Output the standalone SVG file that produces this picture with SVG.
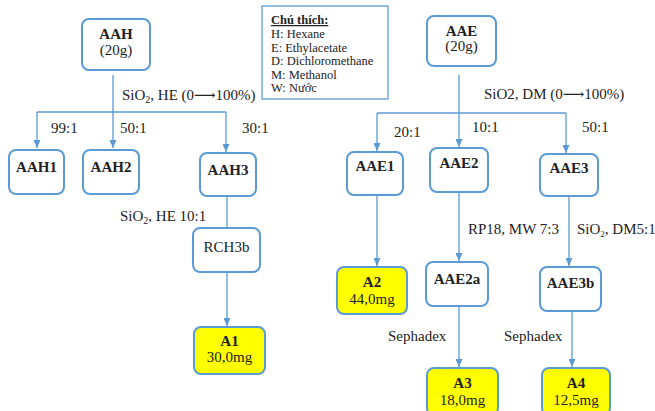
<svg xmlns="http://www.w3.org/2000/svg" width="655" height="411" viewBox="0 0 655 411">
<defs>
<style>
.box{fill:#fff;stroke:#5b9bd5;stroke-width:2}
.y{fill:#ffff00}
text{font-family:"Liberation Serif","Times New Roman","DejaVu Serif",serif;fill:#222}
.t{font-size:15px;text-anchor:middle}
.b{font-weight:bold}
.l{font-size:15px}
.lg{font-size:12.5px}
.c{fill:none;stroke:#5b9bd5;stroke-width:1.3}
</style>
<marker id="ah" markerWidth="8" markerHeight="7" refX="8" refY="3.5" orient="auto" markerUnits="userSpaceOnUse">
<path d="M0,0 L8,3.5 L0,7 Z" fill="#5b9bd5"/>
</marker>
</defs>
<rect width="655" height="411" fill="#fff"/>

<g id="connectors">
<path class="c" d="M113,75 V148" marker-end="url(#ah)"/>
<path class="c" d="M37,112 H226"/>
<path class="c" d="M37,112 V148" marker-end="url(#ah)"/>
<path class="c" d="M226,112 V152" marker-end="url(#ah)"/>
<path class="c" d="M227,196 V228"/>
<path class="c" d="M227,272 V326" marker-end="url(#ah)"/>
<path class="c" d="M459,75 V147" marker-end="url(#ah)"/>
<path class="c" d="M377,113 H566"/>
<path class="c" d="M377,113 V151" marker-end="url(#ah)"/>
<path class="c" d="M566,113 V153" marker-end="url(#ah)"/>
<path class="c" d="M377,195 V266" marker-end="url(#ah)"/>
<path class="c" d="M459,192 V261" marker-end="url(#ah)"/>
<path class="c" d="M569,196 V266" marker-end="url(#ah)"/>
<path class="c" d="M459,306 V367" marker-end="url(#ah)"/>
<path class="c" d="M572,311 V367" marker-end="url(#ah)"/>
</g>

<g id="edge-labels">
<text class="l" x="122" y="100">SiO<tspan font-size="10" dy="3">2</tspan><tspan dy="-3">, HE (0⟶100%)</tspan></text>
<text class="l" x="51" y="133">99:1</text>
<text class="l" x="120" y="133">50:1</text>
<text class="l" x="242" y="133">30:1</text>
<text class="l" x="120" y="221">SiO<tspan font-size="10" dy="3">2</tspan><tspan dy="-3">, HE 10:1</tspan></text>
<text class="l" x="484" y="99">SiO2, DM (0⟶100%)</text>
<text class="l" x="394" y="137">20:1</text>
<text class="l" x="472" y="132">10:1</text>
<text class="l" x="582" y="132">50:1</text>
<text class="l" x="468" y="234">RP18, MW 7:3</text>
<text class="l" x="577" y="234" font-size="13">SiO<tspan font-size="9" dy="3">2</tspan><tspan dy="-3">, DM5:1</tspan></text>
<text class="l" x="388" y="341">Sephadex</text>
<text class="l" x="504" y="341">Sephadex</text>
</g>

<g id="legend">
<rect x="262" y="6" width="126" height="93" fill="#fff" stroke="#5b9bd5" stroke-width="1.3"/>
<text class="lg b" x="271" y="24" text-decoration="underline">Chú thích:</text>
<text class="lg" x="271" y="38">H: Hexane</text>
<text class="lg" x="271" y="52">E: Ethylacetate</text>
<text class="lg" x="271" y="65">D: Dichloromethane</text>
<text class="lg" x="271" y="79">M: Methanol</text>
<text class="lg" x="271" y="92">W: Nước</text>
</g>

<g id="AAH">
<rect class="box" x="82" y="19" width="68" height="51" rx="7"/>
<text class="t b" x="116" y="39">AAH</text>
<text class="t" x="116" y="55">(20g)</text>
</g>
<g id="AAH1">
<rect class="box" x="9" y="150" width="55" height="44" rx="7"/>
<text class="t b" x="36.5" y="172">AAH1</text>
</g>
<g id="AAH2">
<rect class="box" x="83" y="150" width="56" height="44" rx="7"/>
<text class="t b" x="111" y="172">AAH2</text>
</g>
<g id="AAH3">
<rect class="box" x="200" y="153" width="56" height="43" rx="7"/>
<text class="t b" x="228" y="175">AAH3</text>
</g>
<g id="RCH3b">
<rect class="box" x="193" y="228" width="67" height="44" rx="7"/>
<text class="t" x="226.5" y="252">RCH3b</text>
</g>
<g id="A1">
<rect class="box y" x="194" y="327" width="71" height="47" rx="7"/>
<text class="t b" x="229.5" y="346">A1</text>
<text class="t" x="229.5" y="362">30,0mg</text>
</g>

<g id="AAE">
<rect class="box" x="427" y="16" width="69" height="50" rx="7"/>
<text class="t b" x="461.5" y="36">AAE</text>
<text class="t" x="461.5" y="51">(20g)</text>
</g>
<g id="AAE1">
<rect class="box" x="347" y="152" width="56" height="43" rx="7"/>
<text class="t b" x="375" y="171">AAE1</text>
</g>
<g id="AAE2">
<rect class="box" x="430" y="148" width="58" height="44" rx="7"/>
<text class="t b" x="459" y="168">AAE2</text>
</g>
<g id="AAE3">
<rect class="box" x="540" y="154" width="58" height="42" rx="7"/>
<text class="t b" x="569" y="173">AAE3</text>
</g>
<g id="A2">
<rect class="box y" x="337" y="267" width="70" height="47" rx="7"/>
<text class="t b" x="372" y="287">A2</text>
<text class="t" x="372" y="304">44,0mg</text>
</g>
<g id="AAE2a">
<rect class="box" x="426" y="262" width="62" height="44" rx="7"/>
<text class="t b" x="457" y="284">AAE2a</text>
</g>
<g id="AAE3b">
<rect class="box" x="540" y="267" width="61" height="44" rx="7"/>
<text class="t b" x="570.5" y="288">AAE3b</text>
</g>
<g id="A3">
<rect class="box y" x="427" y="368" width="71" height="47" rx="7"/>
<text class="t b" x="462.5" y="388">A3</text>
<text class="t" x="462.5" y="405">18,0mg</text>
</g>
<g id="A4">
<rect class="box y" x="542" y="368" width="68" height="47" rx="7"/>
<text class="t b" x="576" y="388">A4</text>
<text class="t" x="576" y="405">12,5mg</text>
</g>
</svg>
